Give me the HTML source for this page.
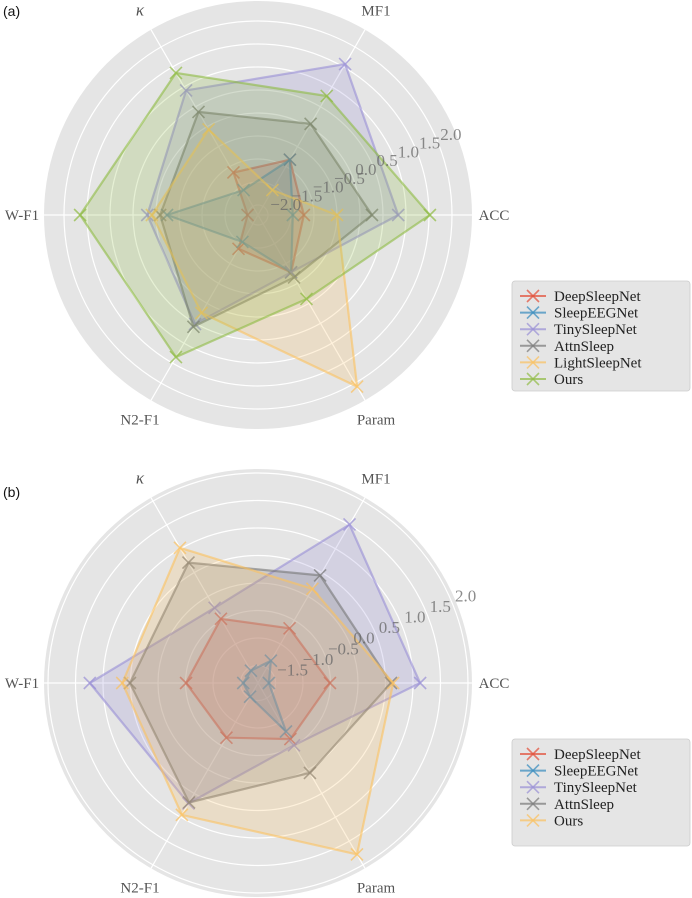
<!DOCTYPE html>
<html><head><meta charset="utf-8">
<style>
html,body{margin:0;padding:0;background:#fff;}
svg{display:block;}
text{font-family:"Liberation Serif","DejaVu Serif",serif;}
</style></head>
<body>
<svg id="fig" width="692" height="898" viewBox="0 0 692 898"></svg>
<script>
const axesLabels = ["ACC","MF1","κ","W-F1","N2-F1","Param"];
const colors = ["#E24A33","#348ABD","#988ED5","#777777","#FBC15E","#8EBA42"];

// Chart (a)
const seriesA = ["DeepSleepNet","SleepEEGNet","TinySleepNet","AttnSleep","LightSleepNet","Ours"];
const deepA  = [-1.22,-0.83,-1.15,-1.99,-1.37,-0.78];
const eegA   = [-1.46,-0.83,-1.59,-0.24,-1.54,-0.78];
const tinyA  = [0.83,1.57,0.91,0.19,0.52,-0.78];
const attnA  = [0.26,0.07,0.37,-0.09,0.59,-0.65];
const lightA = [-0.5,-1.59,-0.07,0.09,0.24,2.09];
const oursA  = [1.52,0.77,1.35,1.65,1.35,-0.11];
const ticksA = [-2.0,-1.5,-1.0,-0.5,0.0,0.5,1.0,1.5,2.0];

// Chart (b)
const seriesB = ["DeepSleepNet","SleepEEGNet","TinySleepNet","AttnSleep","Ours"];
const deepB = [-0.51,-0.67,-0.47,-0.51,-0.67,-0.64];
const eegB  = [-1.62,-1.35,-1.56,-1.55,-1.53,-0.8];
const tinyB = [1.13,1.51,-0.24,1.24,0.71,-0.51];
const attnB = [0.6,0.44,0.71,0.51,0.69,0.07];
const oursB = [0.64,0.16,1.02,0.65,0.95,1.78];
const ticksB = [-1.5,-1.0,-0.5,0.0,0.5,1.0,1.5,2.0];

const NS = "http://www.w3.org/2000/svg";
const svg = document.getElementById("fig");
function mk(tag, attrs, parent){
  const e = document.createElementNS(NS, tag);
  for (const k in attrs) e.setAttribute(k, attrs[k]);
  (parent||svg).appendChild(e);
  return e;
}

function drawRadar(opts){
  const {cx, cy, R, r2, per, ticks, names, data, cols, tag} = opts;
  const rScale = v => r2 + (v - 2) * per;
  const ang = i => i * Math.PI / 3;
  const pt = (i, v) => [cx + rScale(v) * Math.cos(ang(i)), cy - rScale(v) * Math.sin(ang(i))];
  const g = mk("g", {});
  
  
  const bg = mk("circle", {cx, cy, r: R, fill: "#E5E5E5"}, g);
  
  
  ticks.forEach(t => {
    const c = mk("circle", {cx, cy, r: rScale(t), fill: "none", stroke: "#fff", "stroke-width": 1.2}, g);
    
    
  });
  for (let i = 0; i < 6; i++) {
    const l = mk("line", {x1: cx, y1: cy, x2: cx + R*Math.cos(ang(i)), y2: cy - R*Math.sin(ang(i)), stroke: "#fff", "stroke-width": 1.2}, g);
    
    
  }
  data.forEach((vals, s) => {
    const pts = vals.map((v, i) => pt(i, v));
    const d = pts.map(p => p[0].toFixed(1) + "," + p[1].toFixed(1)).join(" ");
    const poly = mk("polygon", {points: d, fill: cols[s], "fill-opacity": 0.22, stroke: cols[s], "stroke-opacity": 0.6, "stroke-width": 2.2, "stroke-linejoin": "round"}, g);
    
    
    pts.forEach(p => {
      const m = mk("path", {d: `M${p[0]-6},${p[1]-6}L${p[0]+6},${p[1]+6}M${p[0]-6},${p[1]+6}L${p[0]+6},${p[1]-6}`, stroke: cols[s], "stroke-opacity": 0.7, "stroke-width": 1.6}, g);
      
      
    });
  });
  const ta = 22.5 * Math.PI / 180;
  ticks.forEach(t => {
    const r = rScale(t);
    const tx = mk("text", {x: cx + r*Math.cos(ta) + 3, y: cy - r*Math.sin(ta) - 1, "font-size": 17, fill: "#666", "fill-opacity": 0.75}, g);
    tx.textContent = (t < 0 ? "\u2212" : "") + Math.abs(t).toFixed(1);
    
    
  });
  axesLabels.forEach((lab, i) => {
    const rr = 236;
    const tx = mk("text", {x: cx + rr*Math.cos(ang(i)), y: cy - rr*Math.sin(ang(i)) + 5, "font-size": lab === "κ" ? 17 : 15, fill: "#555", "text-anchor": "middle", "font-style": lab === "κ" ? "italic" : "normal"}, g);
    tx.textContent = lab;
    
    
  });
}

function drawLegend(x, y, h, names, cols, tag){
  const g = mk("g", {});
  
  
  const box = mk("rect", {x, y, width: 178, height: h, rx: 3, fill: "#E5E5E5", stroke: "#ccc", "stroke-width": 0.8}, g);
  
  
  names.forEach((n, i) => {
    const yy = y + 15 + i * 16.6;
    const ln = mk("line", {x1: x + 8, y1: yy, x2: x + 34, y2: yy, stroke: cols[i], "stroke-opacity": 0.7, "stroke-width": 2}, g);
    
    
    const mx = x + 21;
    const m = mk("path", {d: `M${mx-6},${yy-6}L${mx+6},${yy+6}M${mx-6},${yy+6}L${mx+6},${yy-6}`, stroke: cols[i], "stroke-opacity": 0.7, "stroke-width": 1.6}, g);
    
    
    const t = mk("text", {x: x + 42, y: yy + 5, "font-size": 15, fill: "#222"}, g);
    t.textContent = n;
    
    
  });
}

drawRadar({cx: 258, cy: 215, R: 214, r2: 194, per: 46, ticks: ticksA, names: seriesA,
  data: [deepA, eegA, tinyA, attnA, lightA, oursA], cols: colors, tag: "a"});
drawRadar({cx: 258, cy: 683, R: 214, r2: 210, per: 55, ticks: ticksB, names: seriesB,
  data: [deepB, eegB, tinyB, attnB, oursB], cols: [colors[0], colors[1], colors[2], colors[3], colors[4]], tag: "b"});
drawLegend(512, 281, 110, seriesA, colors, "a");
drawLegend(512, 739, 107, seriesB, [colors[0], colors[1], colors[2], colors[3], colors[4]], "b");

const la = mk("text", {x: 3, y: 16, "font-size": 14, fill: "#111", style: "font-family:'Liberation Sans',sans-serif"});
la.textContent = "(a)";


const lb = mk("text", {x: 3, y: 497, "font-size": 14, fill: "#111", style: "font-family:'Liberation Sans',sans-serif"});
lb.textContent = "(b)";


</script>
</body></html>
